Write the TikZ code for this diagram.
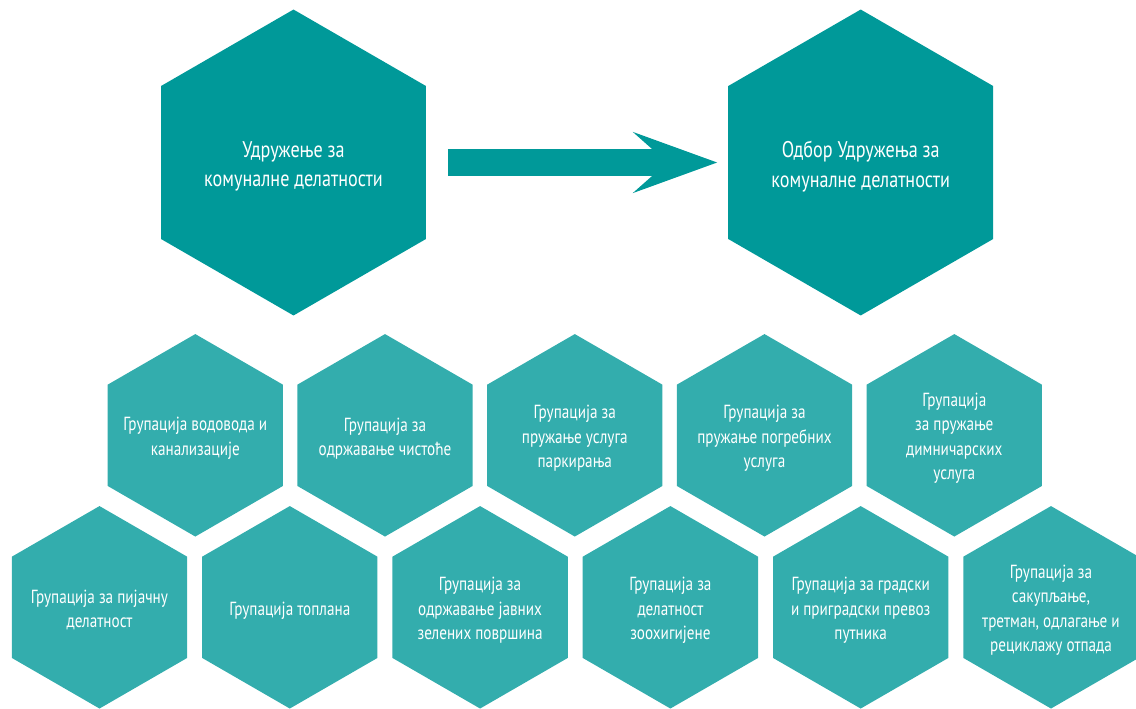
\documentclass[tikz,border=0pt]{standalone}
\usepackage{fontspec}
\setmainfont{PT Sans}[FakeStretch=0.8]
\usetikzlibrary{shapes.geometric}
\usetikzlibrary{arrows.meta}
\definecolor{mteal}{HTML}{009999}
\definecolor{lteal}{HTML}{33ADAD}
\tikzset{bighex/.style = {regular polygon, regular polygon sides=6, shape border rotate=30,
                          minimum size=6.12cm, inner sep=0pt, fill=mteal},
         smallhex/.style = {regular polygon, regular polygon sides=6, shape border rotate=30,
                            minimum size=4.05cm, inner sep=0pt, fill=lteal},
         bigtxt/.style = {text=white, align=center, yshift=-0.08cm,
                          font=\fontsize{12.9}{16.8}\selectfont},
         smalltxt/.style = {text=white, align=center, yshift=-0.06cm,
                            font=\fontsize{10.8}{13.8}\selectfont},
         bigarrow/.style = {draw=mteal, line width=0.528cm,
                            -{Stealth[length=1.668cm, width=1.2cm, inset=0.67cm]},
                            shorten <=0.43cm, shorten >=0.212cm}}

\begin{document}
\begin{tikzpicture}[x=0.02cm, y=-0.02cm]
      \useasboundingbox (0, 0) rectangle (1136, 708);

      \node [bighex, label={[bigtxt]center:{Удружење за\\комуналне делатности}}] (udr) at (293.5, 162.5) {};
      \node [bighex, label={[bigtxt]center:{Одбор Удружења за\\комуналне делатности}}] (odbor) at (860.7, 162.5) {};
      \draw [bigarrow] (udr.east) -- (odbor.west);

      \node [smallhex, label={[smalltxt]center:{Групација водовода и\\канализације}}] (vod) at (195.3, 435.3) {};
      \node [smallhex, label={[smalltxt]center:{Групација за\\одржавање чистоће}}] (cist) at (385, 435.3) {};
      \node [smallhex, label={[smalltxt]center:{Групација за\\пружање услуга\\паркирања}}] (park) at (574.8, 435.3) {};
      \node [smallhex, label={[smalltxt]center:{Групација за\\пружање погребних\\услуга}}] (pogr) at (764.5, 435.3) {};
      \node [smallhex, label={[smalltxt]center:{Групација\\за пружање\\димничарских\\услуга}}] (dimn) at (954.3, 435.3) {};

      \node [smallhex, label={[smalltxt]center:{Групација за пијачну\\делатност}}] (pij) at (99.5, 607.3) {};
      \node [smallhex, label={[smalltxt]center:{Групација топлана}}] (topl) at (289.8, 607.3) {};
      \node [smallhex, label={[smalltxt]center:{Групација за\\одржавање јавних\\зелених површина}}] (zel) at (480.1, 607.3) {};
      \node [smallhex, label={[smalltxt]center:{Групација за\\делатност\\зоохигијене}}] (zoo) at (670.4, 607.3) {};
      \node [smallhex, label={[smalltxt]center:{Групација за градски\\и приградски превоз\\путника}}] (prev) at (860.7, 607.3) {};
      \node [smallhex, label={[smalltxt]center:{Групација за\\сакупљање,\\третман, одлагање и\\рециклажу отпада}}] (otp) at (1051, 607.3) {};
\end{tikzpicture}
\end{document}
